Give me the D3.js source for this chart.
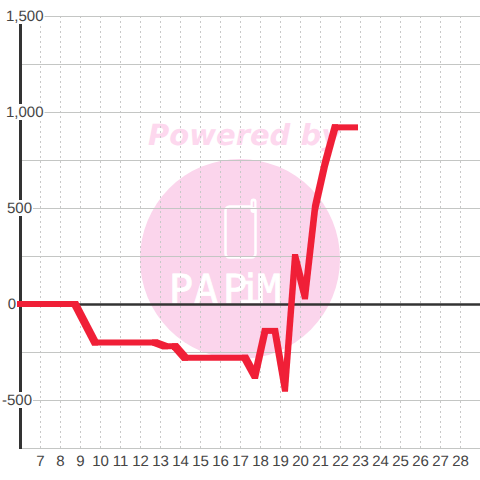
<!DOCTYPE html>
<html>
<head>
<meta charset="utf-8">
<script src="https://cdn.jsdelivr.net/npm/d3@7"></script>
<style>
html, body { margin: 0; padding: 0; background: #fff; }
svg { display: block; }
text { font-family: "Liberation Sans", Arial, sans-serif; text-rendering: geometricPrecision; }
</style>
</head>
<body>
<div id="chart"></div>
<script>
// values
let hours = [6, 8.75, 9.75, 12.75, 13.25, 13.75, 14.25, 17.25, 17.75, 18.25, 18.75, 19.25, 19.75, 20.25, 20.75, 21.25, 21.75, 22.75];
let values = [0, 0, -200, -200, -220, -220, -280, -280, -375, -140, -140, -440, 245, 40, 500, 730, 920, 920];
let xTicks = [7, 8, 9, 10, 11, 12, 13, 14, 15, 16, 17, 18, 19, 20, 21, 22, 23, 24, 25, 26, 27, 28];
let yTicks = [1500, 1250, 1000, 750, 500, 250, 0, -250, -500, -750];
let yTickLabels = ["1,500", "", "1,000", "", "500", "", "0", "", "-500", ""];
let yLabelRight = [43.5, 0, 43.5, 0, 32, 0, 16, 0, 32, 0];

let width = 480;
let height = 480;
let penSize = 6;

let svg = d3.select("#chart").append("svg")
    .attr("width", width)
    .attr("height", height);

let x = d3.scaleLinear().domain([6, 29]).range([20, 480]);
let y = d3.scaleLinear().domain([1500, -750]).range([16, 448]);

// watermark sits under the grid
let mark = svg.append("g");
mark.append("circle")
    .attr("cx", 240)
    .attr("cy", 259)
    .attr("r", 100)
    .attr("fill", "#fbd5ec");
mark.append("text")
    .attr("x", 148)
    .attr("y", 145)
    .attr("fill", "#fdd8ee")
    .style("font-family", "'DejaVu Sans'")
    .style("font-weight", "bold")
    .style("font-style", "italic")
    .style("font-size", "29px")
    .text("Powered by");
mark.append("rect")
    .attr("x", 225.5)
    .attr("y", 206.5)
    .attr("width", 30)
    .attr("height", 51)
    .attr("rx", 4)
    .attr("fill", "none")
    .attr("stroke", "#fff")
    .attr("stroke-width", 2.5);
mark.append("line")
    .attr("x1", 253.5)
    .attr("y1", 201.5)
    .attr("x2", 253.5)
    .attr("y2", 210)
    .attr("stroke", "#fff")
    .attr("stroke-width", 6)
    .attr("stroke-linecap", "round");
mark.append("line")
    .attr("x1", 253.5)
    .attr("y1", 201.5)
    .attr("x2", 253.5)
    .attr("y2", 207)
    .attr("stroke", "#fbd5ec")
    .attr("stroke-width", 1.5);
mark.append("text")
    .attr("x", "169 194 223 238 257")
    .attr("y", 303)
    .attr("fill", "#fff")
    .attr("stroke", "#fff")
    .attr("stroke-width", 0.8)
    .style("font-family", "'DejaVu Sans Mono'")
    .style("font-size", "40px")
    .text("PAPiM");

// grid
let gridX = svg.append("g")
    .attr("transform", "translate(0, 16)")
    .call(d3.axisBottom(x).tickValues(xTicks).tickSize(432).tickFormat(""));
gridX.select(".domain").remove();
gridX.selectAll("line")
    .attr("stroke", "#c8c8c8")
    .attr("stroke-dasharray", "2,3");

let gridY = svg.append("g")
    .attr("transform", "translate(20, 0)")
    .call(d3.axisRight(y).tickValues(yTicks).tickSize(460).tickFormat(""));
gridY.select(".domain").remove();
gridY.selectAll("line")
    .attr("stroke", "#c4c6c4")
    .attr("stroke-width", 1.2);

// axis lines
svg.append("line")
    .attr("x1", 20.5)
    .attr("y1", y(1500))
    .attr("x2", 20.5)
    .attr("y2", y(-750) + 1)
    .attr("stroke", "#333")
    .attr("stroke-width", 3);
svg.append("line")
    .attr("x1", 20)
    .attr("y1", y(0) + 0.5)
    .attr("x2", 480)
    .attr("y2", y(0) + 0.5)
    .attr("stroke", "#333")
    .attr("stroke-width", 2.5);

// tick labels, the y ones knock out what is behind them
let labelsY = svg.append("g");
yTicks.forEach((t, i) => {
    if (yTickLabels[i] === "") return;
    let label = labelsY.append("text")
        .attr("x", yLabelRight[i])
        .attr("y", y(t))
        .attr("dy", "0.35em")
        .attr("text-anchor", "end")
        .attr("fill", "#444")
        .style("font-size", "15px")
        .text(yTickLabels[i]);
    let box = label.node().getBBox();
    labelsY.insert("rect", "text")
        .attr("x", box.x)
        .attr("y", y(t) - 8)
        .attr("width", box.width + 1)
        .attr("height", 16)
        .attr("fill", "#fff");
});

svg.append("g")
    .selectAll("text")
    .data(xTicks)
    .join("text")
    .attr("x", d => x(d) + 0.5)
    .attr("y", 466)
    .attr("text-anchor", "middle")
    .attr("fill", "#444")
    .style("font-size", "15px")
    .text(d => d);

// series: the original sweeps a square pen, so each segment is the hull of the pen at both ends
let points = values.map((d, i) => [x(hours[i]), y(d)]);
let half = penSize / 2;
let penCorners = p => [
    [p[0] - half, p[1] - half],
    [p[0] + half, p[1] - half],
    [p[0] + half, p[1] + half],
    [p[0] - half, p[1] + half]
];
let outline = d3.line();

svg.append("g")
    .selectAll("path")
    .data(d3.pairs(points))
    .join("path")
    .attr("d", d => outline(d3.polygonHull(penCorners(d[0]).concat(penCorners(d[1])))) + "Z")
    .attr("fill", "#f01f37");
</script>
</body>
</html>
